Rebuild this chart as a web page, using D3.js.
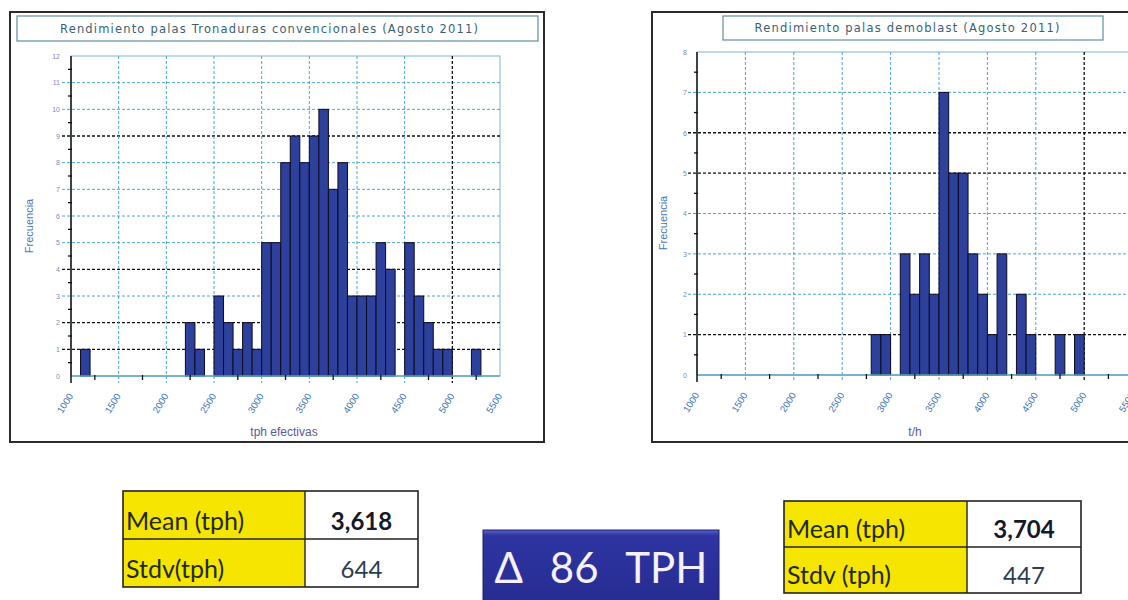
<!DOCTYPE html>
<html>
<head>
<meta charset="utf-8">
<script src="https://cdn.jsdelivr.net/npm/d3@7"></script>
<style>
  body { margin: 0; background: #fff; }
  svg { display: block; }
</style>
</head>
<body>
<script>
// histogram bins (start of 100 tph bin) and counts
let convBins = [1100, 2200, 2300, 2500, 2600, 2700, 2800, 2900, 3000, 3100, 3200, 3300, 3400, 3500,
                3600, 3700, 3800, 3900, 4000, 4100, 4200, 4300, 4500, 4600, 4700, 4800, 4900, 5200]
let convCounts = [1, 2, 1, 3, 2, 1, 2, 1, 5, 5, 8, 9, 8, 9,
                  10, 7, 8, 3, 3, 3, 5, 4, 5, 3, 2, 1, 1, 1]
let demoBins = [2800, 2900, 3100, 3200, 3300, 3400, 3500, 3600, 3700, 3800, 3900, 4000, 4100, 4300, 4400, 4700, 4900]
let demoCounts = [1, 1, 3, 2, 3, 2, 7, 5, 5, 3, 2, 1, 3, 2, 1, 1, 1]
let binWidth = 100

let xTicks = [1000, 1500, 2000, 2500, 3000, 3500, 4000, 4500, 5000, 5500]
let convYTicks = [0, 1, 2, 3, 4, 5, 6, 7, 8, 9, 10, 11, 12]
let demoYTicks = [0, 1, 2, 3, 4, 5, 6, 7, 8]
let convDarkRows = [1, 2, 4, 9]
let demoDarkRows = [1, 5, 6]
let darkCol = 5000

let convStatLabels = ['Mean (tph)', 'Stdv(tph)']
let convStatValues = ['3,618', '644']
let demoStatLabels = ['Mean (tph)', 'Stdv (tph)']
let demoStatValues = ['3,704', '447']
let deltaText = 'Δ 86 TPH'

let width = 1128
let height = 600

let svg = d3.select('body')
    .append('svg')
        .attr('width', width)
        .attr('height', height)

let defs = svg.append('defs')
let grad = defs.append('linearGradient').attr('id', 'deltaFill')
    .attr('x1', 0).attr('y1', 0).attr('x2', 0).attr('y2', 1)
grad.append('stop').attr('offset', '0%').attr('stop-color', '#5a62c8')
grad.append('stop').attr('offset', '7%').attr('stop-color', '#2e35a2')
grad.append('stop').attr('offset', '100%').attr('stop-color', '#252b8e')

function drawChart(c) {
    let g = svg.append('g')

    // outer frame + title box
    g.append('rect')
        .attr('x', c.frame[0]).attr('y', c.frame[1])
        .attr('width', c.frame[2]).attr('height', c.frame[3])
        .attr('fill', '#fff').attr('stroke', '#2b2b2b').attr('stroke-width', 2)
    g.append('rect')
        .attr('x', c.titleBox[0]).attr('y', c.titleBox[1])
        .attr('width', c.titleBox[2]).attr('height', c.titleBox[3])
        .attr('fill', '#fff').attr('stroke', '#5f8fa0').attr('stroke-width', 1.2)
    g.append('text')
        .attr('x', c.titleX).attr('y', c.titleBox[1] + c.titleBox[3] / 2 + 4)
        .attr('text-anchor', 'middle')
        .attr('textLength', c.titleLen)
        .style('font', '11.5px "DejaVu Sans", Verdana, sans-serif')
        .style('fill', '#3a5f74')
        .text(c.title)

    let x = d3.scaleLinear().domain([1000, 5500]).range(c.xRange)
    let y = d3.scaleLinear().domain([0, c.yMax]).range(c.yRange)
    let x0 = c.xRange[0], x1 = c.xRange[1]
    let y0 = c.yRange[0], yTop = c.yRange[1]

    // plot border
    g.append('rect')
        .attr('x', x0).attr('y', yTop).attr('width', x1 - x0).attr('height', y0 - yTop)
        .attr('fill', 'none').attr('stroke', '#7db6cc').attr('stroke-width', 1)

    // horizontal grid
    g.selectAll('.hgrid')
        .data(c.yTicks.slice(1, -1))
        .enter()
        .append('line').attr('class', 'hgrid')
            .attr('x1', x0 - 9).attr('x2', x1)
            .attr('y1', d => y(d)).attr('y2', d => y(d))
            .attr('stroke', d => c.darkRows.includes(d) ? '#111' : '#4aa6cf')
            .attr('stroke-width', d => c.darkRows.includes(d) ? 1.3 : 1)
            .attr('stroke-dasharray', '3,2')

    // vertical grid
    g.selectAll('.vgrid')
        .data(xTicks.slice(1, -1))
        .enter()
        .append('line').attr('class', 'vgrid')
            .attr('x1', d => x(d)).attr('x2', d => x(d))
            .attr('y1', yTop).attr('y2', y0 + 7)
            .attr('stroke', d => d === darkCol ? '#111' : '#4aa6cf')
            .attr('stroke-width', d => d === darkCol ? 1.3 : 1)
            .attr('stroke-dasharray', '3,2')

    // bars
    g.selectAll('.bar')
        .data(c.bins.map((b, i) => ({ bin: b, count: c.counts[i] })))
        .enter()
        .append('rect').attr('class', 'bar')
            .attr('x', d => x(d.bin))
            .attr('width', d => x(d.bin + binWidth) - x(d.bin))
            .attr('y', d => y(d.count))
            .attr('height', d => y0 - y(d.count))
            .attr('fill', '#2d409c')
            .attr('stroke', '#0b0b1e').attr('stroke-width', 1)

    // x axis line (light blue) and y axis line (black)
    g.append('line').attr('x1', x0).attr('x2', x1).attr('y1', y0).attr('y2', y0)
        .attr('stroke', '#5fa7c4').attr('stroke-width', 1.5)
    g.append('line').attr('x1', x0).attr('x2', x0).attr('y1', yTop).attr('y2', y0 + 7)
        .attr('stroke', '#111').attr('stroke-width', 1.5)

    // minor ticks
    g.selectAll('.ymin')
        .data(c.yTicks.slice(0, -1).map(v => v + 0.5))
        .enter()
        .append('line').attr('class', 'ymin')
            .attr('x1', x0 - 3).attr('x2', x0 + 1)
            .attr('y1', d => y(d)).attr('y2', d => y(d))
            .attr('stroke', '#111').attr('stroke-width', 1.3)
    g.selectAll('.xmin')
        .data(xTicks.slice(0, -1).map(v => v + 250))
        .enter()
        .append('line').attr('class', 'xmin')
            .attr('x1', d => x(d)).attr('x2', d => x(d))
            .attr('y1', y0 - 1).attr('y2', y0 + 4)
            .attr('stroke', '#111').attr('stroke-width', 1.3)

    // y tick labels
    let yAxis = g.append('g')
        .attr('transform', 'translate(' + x0 + ',0)')
        .call(d3.axisLeft(y).tickValues(c.yTicks).tickSize(0).tickPadding(c.yPad))
    yAxis.select('.domain').remove()
    yAxis.selectAll('text')
        .style('font', '7px "Liberation Sans", Arial, sans-serif')
        .style('fill', '#7f86bf')

    // x tick labels, rotated
    let xAxis = g.append('g')
        .attr('transform', 'translate(0,' + y0 + ')')
        .call(d3.axisBottom(x).tickValues(xTicks).tickSize(0).tickFormat(d3.format('d')))
    xAxis.select('.domain').remove()
    xAxis.selectAll('text')
        .attr('text-anchor', 'end')
        .attr('dy', 0)
        .attr('y', 0)
        .attr('transform', 'translate(2,20) rotate(-58)')
        .style('font', '9.5px "Liberation Sans", Arial, sans-serif')
        .style('fill', '#3b74b8')

    // axis titles
    g.append('text')
        .attr('transform', 'translate(' + c.yTitle[0] + ',' + c.yTitle[1] + ') rotate(-90)')
        .attr('text-anchor', 'middle')
        .style('font', '11px "Liberation Sans", Arial, sans-serif')
        .style('fill', '#4a78b8')
        .text('Frecuencia')
    g.append('text')
        .attr('x', c.xTitle[0]).attr('y', c.xTitle[1])
        .attr('text-anchor', 'middle')
        .style('font', '12px "Liberation Sans", Arial, sans-serif')
        .style('fill', '#5a5a9a')
        .text(c.xLabel)
}

drawChart({
    frame: [10, 12, 534, 430],
    titleBox: [17, 16, 521, 25],
    titleX: 269, titleLen: 418,
    title: 'Rendimiento palas Tronaduras convencionales (Agosto 2011)',
    xRange: [71, 500], yRange: [376, 56], yMax: 12,
    yTicks: convYTicks, darkRows: convDarkRows,
    bins: convBins, counts: convCounts,
    yPad: 11,
    yTitle: [33, 226], xTitle: [284, 436], xLabel: 'tph efectivas'
})

drawChart({
    frame: [652, 12, 520, 430],
    titleBox: [723, 16, 380, 24],
    titleX: 907, titleLen: 305,
    title: 'Rendimiento palas demoblast (Agosto 2011)',
    xRange: [697, 1132.6], yRange: [375, 52], yMax: 8,
    yTicks: demoYTicks, darkRows: demoDarkRows,
    bins: demoBins, counts: demoCounts,
    yPad: 10,
    yTitle: [667, 223], xTitle: [915, 436], xLabel: 't/h'
})

// stats tables
function drawTable(t) {
    let g = svg.append('g')
    let rowH = (t.bottom - t.top) / 2
    t.labels.forEach((lab, i) => {
        let ry = t.top + i * rowH
        g.append('rect')
            .attr('x', t.left).attr('y', ry).attr('width', t.split - t.left).attr('height', rowH)
            .attr('fill', '#f5e500')
        g.append('text')
            .attr('x', t.left + 3).attr('y', ry + rowH - 9)
            .style('font', '25px Lato, "Open Sans", sans-serif')
            .style('fill', '#1f2a12')
            .text(lab)
        g.append('text')
            .attr('x', (t.split + t.right) / 2).attr('y', ry + rowH - 9)
            .attr('text-anchor', 'middle')
            .style('font', (i === 0 ? 'bold ' : '') + '24px Lato, "Open Sans", sans-serif')
            .style('fill', i === 0 ? '#15192a' : '#2c3d52')
            .text(t.values[i])
    })
    g.append('rect')
        .attr('x', t.left).attr('y', t.top).attr('width', t.right - t.left).attr('height', t.bottom - t.top)
        .attr('fill', 'none').attr('stroke', '#222').attr('stroke-width', 1.6)
    g.append('line').attr('x1', t.left).attr('x2', t.right).attr('y1', t.top + rowH).attr('y2', t.top + rowH)
        .attr('stroke', '#222').attr('stroke-width', 1.4)
    g.append('line').attr('x1', t.split).attr('x2', t.split).attr('y1', t.top).attr('y2', t.bottom)
        .attr('stroke', '#222').attr('stroke-width', 1.4)
}

drawTable({ left: 123, right: 418, split: 305, top: 491, bottom: 587,
            labels: convStatLabels, values: convStatValues })
drawTable({ left: 784, right: 1081, split: 967, top: 501, bottom: 593,
            labels: demoStatLabels, values: demoStatValues })

// delta badge
svg.append('rect')
    .attr('x', 483).attr('y', 530).attr('width', 236).attr('height', 80)
    .attr('fill', 'url(#deltaFill)')
    .attr('stroke', '#1c2070').attr('stroke-width', 1)
svg.append('text')
    .attr('x', 601).attr('y', 583)
    .attr('text-anchor', 'middle')
    .style('font', '42px Lato, "Open Sans", sans-serif')
    .style('word-spacing', '16px')
    .style('fill', '#f6f0fb')
    .text(deltaText)
</script>
</body>
</html>
